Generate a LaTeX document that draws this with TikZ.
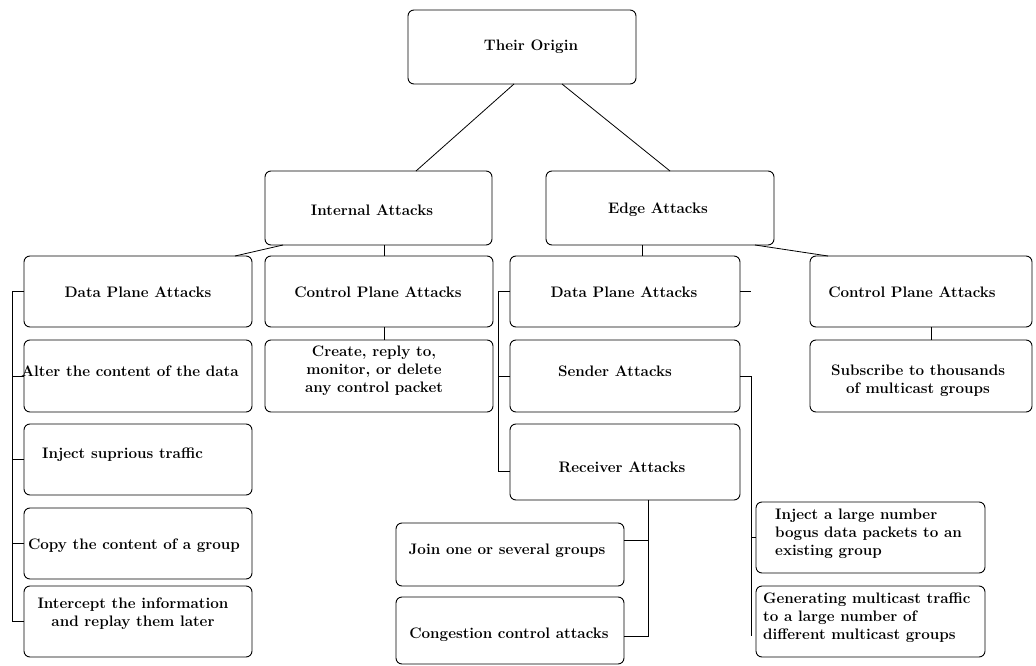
\documentclass[tikz,border=0pt]{standalone}
\begin{document}
\begin{tikzpicture}[x=1pt,y=-1pt,
  box/.style={draw, rounded corners=6pt, line width=0.9pt, inner sep=0pt, outer sep=0pt},
  txt/.style={inner sep=0pt, font=\fontsize{15.2}{18}\selectfont\bfseries, align=center},
  conn/.style={line width=0.8pt}]
\useasboundingbox[fill=white] (0,0) rectangle (1036,666);
% boxes
\node[box, minimum width=228pt, minimum height=74pt] (origin) at (522,47) {};
\node[box, minimum width=227pt, minimum height=74pt] (internal) at (378.5,208) {};
\node[box, minimum width=228pt, minimum height=74pt] (edge) at (660,208) {};
\node[box, minimum width=228pt, minimum height=71pt] (idp) at (138,291.5) {};
\node[box, minimum width=228pt, minimum height=71pt] (icp) at (379,291.5) {};
\node[box, minimum width=228pt, minimum height=72pt] (alter) at (138,376) {};
\node[box, minimum width=228pt, minimum height=72pt] (create) at (379,376) {};
\node[box, minimum width=228pt, minimum height=71pt] (inject) at (138,459.5) {};
\node[box, minimum width=228pt, minimum height=71pt] (copy) at (138,543.5) {};
\node[box, minimum width=228pt, minimum height=71pt] (intercept) at (138,621.5) {};
\node[box, minimum width=230pt, minimum height=71pt] (edp) at (625,291.5) {};
\node[box, minimum width=230pt, minimum height=72pt] (sender) at (625,376) {};
\node[box, minimum width=230pt, minimum height=76pt] (receiver) at (625,462) {};
\node[box, minimum width=228pt, minimum height=63pt] (join) at (510,554.5) {};
\node[box, minimum width=228pt, minimum height=67pt] (congestion) at (510,630.5) {};
\node[box, minimum width=222pt, minimum height=71pt] (ecp) at (921,291.5) {};
\node[box, minimum width=222pt, minimum height=72pt] (subscribe) at (921,376) {};
\node[box, minimum width=229pt, minimum height=71pt] (injectlarge) at (870.5,537.5) {};
\node[box, minimum width=229pt, minimum height=71pt] (generating) at (870.5,621.5) {};
% texts
\node[txt] (t-origin) at (531,47) {Their Origin};
\node[txt] (t-internal) at (372,210) {Internal Attacks};
\node[txt] (t-edge) at (658,210) {Edge Attacks};
\node[txt] (t-idp) at (138,292) {Data Plane Attacks};
\node[txt] (t-icp) at (378,292) {Control Plane Attacks};
\node[txt] (t-alter) at (130,371) {Alter the content of the data};
\node[txt] (t-create) at (374,371) {Create, reply to,\\ monitor, or delete\\ any control packet};
\node[txt, anchor=west] (t-inject) at (42,455) {Inject suprious traffic};
\node[txt] (t-copy) at (134,546) {Copy the content of a group};
\node[txt] (t-intercept) at (133,614) {Intercept the information\\ and replay them later};
\node[txt] (t-edp) at (624,292) {Data Plane Attacks};
\node[txt] (t-sender) at (615,371) {Sender Attacks};
\node[txt] (t-receiver) at (622,467) {Receiver Attacks};
\node[txt] (t-join) at (507,551) {Join one or several groups};
\node[txt] (t-congestion) at (509,635) {Congestion control attacks};
\node[txt] (t-ecp) at (912,292) {Control Plane Attacks};
\node[txt] (t-subscribe) at (918,381) {Subscribe to thousands\\ of multicast groups};
\node[txt, anchor=west, align=left] (t-injectlarge) at (775,534) {Inject a large number\\ bogus data packets to an\\ existing group};
\node[txt, anchor=west, align=left] (t-generating) at (763,618) {Generating multicast traffic\\ to a large number of\\ different multicast groups};
% connectors
\draw[conn] ([xshift=-8pt]origin.south) -- ([xshift=37.5pt]internal.north);
\draw[conn] ([xshift=40pt]origin.south) -- ([xshift=10pt]edge.north);
\draw[conn] ([xshift=-95.5pt]internal.south) -- ([xshift=97pt]idp.north);
\draw[conn] ([xshift=95pt]edge.south) -- ([xshift=-93pt]ecp.north);
\coordinate (iv) at (384,0);
\draw[conn] (iv |- internal.south) -- (iv |- icp.north);
\draw[conn] (iv |- icp.south) -- (iv |- create.north);
\coordinate (ev) at (642,0);
\draw[conn] (ev |- edge.south) -- (ev |- edp.north);
\coordinate (cv) at (931,0);
\draw[conn] (cv |- ecp.south) -- (cv |- subscribe.north);
% internal data plane bracket
\coordinate (ib) at (12,0);
\draw[conn] (idp.west) -| (ib |- intercept.west) -- (intercept.west);
\draw[conn] (alter.west) -- (alter.west -| ib);
\draw[conn] (inject.west) -- (inject.west -| ib);
\draw[conn] (copy.west) -- (copy.west -| ib);
% edge data plane bracket
\coordinate (eb) at (498,0);
\coordinate (rt) at (498,471);
\draw[conn] (edp.west) -| (rt) -- (rt -| receiver.west);
\draw[conn] (sender.west) -- (sender.west -| eb);
\coordinate (stub) at (751,291.5);
\draw[conn] (edp.east) -- (stub);
% sender bracket
\coordinate (sbend) at (751,636);
\draw[conn] (sender.east) -| (sbend);
\draw[conn] (sbend |- injectlarge.west) -- (injectlarge.west);
% receiver bracket
\coordinate (rb) at (648,636);
\coordinate (jt) at (648,540);
\draw[conn] (rb |- receiver.south) -- (rb) -- (rb -| congestion.east);
\draw[conn] (jt) -- (jt -| join.east);
\end{tikzpicture}
\end{document}
